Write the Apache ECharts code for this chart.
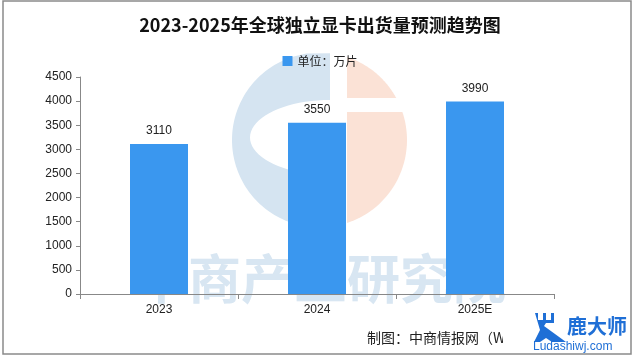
<!DOCTYPE html>
<html><head><meta charset="utf-8">
<script src="https://cdn.jsdelivr.net/npm/echarts@6/dist/echarts.min.js"></script>
<style>html,body{margin:0;padding:0;background:#fff}#c{width:640px;height:356px}</style>
</head><body><div id="c"></div>
<script>
const categories = ['2023', '2024', '2025E'];
const values = [3110, 3550, 3990];
const yTicks = { min: 0, max: 4500, interval: 500 };
const titleText = '2023-2025年全球独立显卡出货量预测趋势图';
const seriesName = '单位：万片';
const footerText = '制图：中商情报网（WWW.ASKCI.COM）';

// watermark logo geometry helpers (decoration only)
const CX = 319.5, CY = 140, R = 87.5;
function circlePtsX(fromY, toY, side, n) {
  const pts = [];
  for (let i = 0; i <= n; i++) {
    const y = fromY + (toY - fromY) * i / n;
    const dy = y - CY;
    const dx = Math.sqrt(Math.max(0, R * R - dy * dy));
    pts.push([CX + side * dx, y]);
  }
  return pts;
}
function yOnCircle(x, sign) { const dx = x - CX; return CY + sign * Math.sqrt(R * R - dx * dx); }
const blueC = (function () {
  const pts = [[330, yOnCircle(330, -1)]];
  circlePtsX(CY - R + 1, CY + R - 1, -1, 60).forEach(p => { if (p[0] <= 330) pts.push(p); });
  pts.push([330, yOnCircle(330, 1)]);
  for (let i = 0; i <= 40; i++) {
    const a = Math.PI / 2 + Math.PI * i / 40;
    pts.push([330 + 80 * Math.cos(a), 137.5 + 37.5 * Math.sin(a)]);
  }
  return pts;
})();
const orangeTop = (function () {
  const pts = [[347, yOnCircle(347, -1)]];
  circlePtsX(yOnCircle(347, -1), 98, 1, 30).forEach(p => pts.push(p));
  pts.push([347, 98]);
  return pts;
})();
const orangeBot = (function () {
  const pts = [[347, 112]];
  circlePtsX(112, yOnCircle(347, 1), 1, 40).forEach(p => pts.push(p));
  return pts;
})();

const chart = echarts.init(document.getElementById('c'), null, { renderer: 'canvas' });
const wmBlue = '#d5e4f1', wmOrange = '#fbe2d6';
chart.setOption({
  backgroundColor: '#fff',
  animation: false,
  title: {
    text: titleText, left: 315, textAlign: 'center', top: 11,
    textStyle: { fontFamily: 'Noto Sans CJK SC', fontWeight: 'bold', fontSize: 18, color: '#111' }
  },
  legend: {
    top: 50, left: 'center', itemWidth: 10, itemHeight: 10, itemGap: 3,
    icon: 'rect',
    textStyle: { fontFamily: 'Noto Sans CJK SC', fontSize: 12, color: '#222' },
    data: [seriesName]
  },
  grid: { left: 80, right: 86, top: 77, bottom: 62, containLabel: false },
  xAxis: {
    type: 'category', data: categories,
    axisLine: { lineStyle: { color: '#888', width: 1 } },
    axisTick: { show: true, length: 5, lineStyle: { color: '#888' } },
    axisLabel: { color: '#222', fontSize: 12, fontFamily: 'Liberation Sans', margin: 10 }
  },
  yAxis: {
    type: 'value', min: yTicks.min, max: yTicks.max, interval: yTicks.interval,
    axisLine: { show: true, lineStyle: { color: '#888', width: 1 } },
    axisTick: { show: true, length: 4, lineStyle: { color: '#888' } },
    splitLine: { show: false },
    axisLabel: { color: '#222', fontSize: 12, fontFamily: 'Liberation Sans', margin: 8,
      formatter: v => String(v) }
  },
  graphic: [
    { type: 'polygon', z: -10, silent: true, shape: { points: blueC }, style: { fill: wmBlue } },
    { type: 'polygon', z: -10, silent: true, shape: { points: orangeTop }, style: { fill: wmOrange } },
    { type: 'polygon', z: -10, silent: true, shape: { points: orangeBot }, style: { fill: wmOrange } },
    { type: 'text', z: -10, silent: true, left: 135, top: 252,
      style: { text: '中商产业研究院', fill: '#d8e6f2', font: 'bold 53px "Noto Sans CJK SC"' } },
    { type: 'text', z: 10, silent: true, left: 367, top: 331,
      style: { text: footerText, fill: '#222', font: '14px "Noto Sans CJK SC"' } },
    { type: 'rect', z: 11, silent: true, shape: { x: 503, y: 305, width: 137, height: 51 },
      style: { fill: '#fff' } },
    { type: 'rect', z: 12, silent: true, shape: { x: 3, y: 1, width: 628, height: 353 },
      style: { fill: 'none', stroke: '#8a8a8a', lineWidth: 1.5 } },
    { type: 'polygon', z: 13, silent: true,
      shape: { points: [[535,313],[538,313],[538,320],[543,320],[543,313],[546,313],[546,320],[551,320],[551,313],[554,313],[554,323],[546,323],[544,326],[566,342],[552,342],[546,338],[540,342],[534,342],[540,330]] },
      style: { fill: '#1f6fd6' } },
    { type: 'text', z: 13, silent: true, left: 567, top: 316,
      style: { text: '鹿大师', fill: '#1f6fd6', font: 'bold 20px "Noto Sans CJK SC"' } },
    { type: 'text', z: 13, silent: true, left: 533, top: 341,
      style: { text: 'Ludashiwj.com', fill: '#1f6fd6', font: '12px "Liberation Sans"' } }
  ],
  series: [{
    name: seriesName, type: 'bar', data: values, barWidth: 58,
    itemStyle: { color: '#3a97ef' },
    label: { show: true, position: 'top', distance: 7, color: '#222', fontSize: 12, fontFamily: 'Liberation Sans' }
  }]
});
</script></body></html>
